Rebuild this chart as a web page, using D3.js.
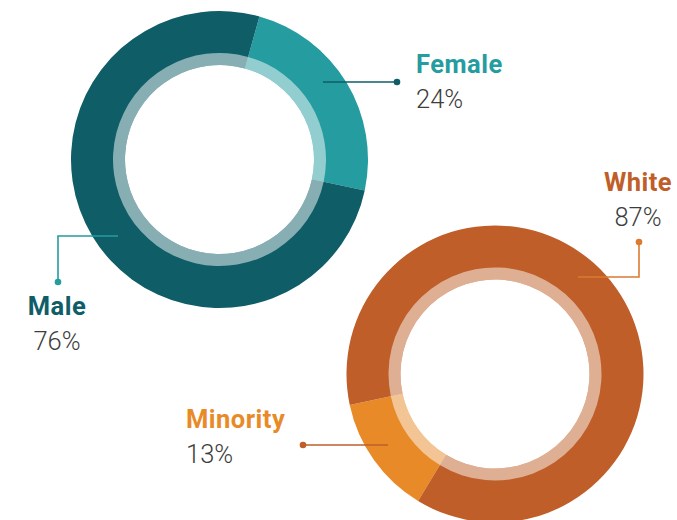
<!DOCTYPE html>
<html><head><meta charset="utf-8">
<script src="https://cdn.jsdelivr.net/npm/d3@7"></script>
<style>body{margin:0;background:#fff;overflow:hidden}</style>
</head><body>
<svg id="c" width="677" height="520"></svg>
<script>
const genderCats = ["Female", "Male"];
const genderVals = [24, 76];
const raceCats = ["Minority", "White"];
const raceVals = [13, 87];

const colors = {Female:"#249ca0", Male:"#0f5d67", Minority:"#e88a28", White:"#bf5e28"};
const labelColors = {Female:"#249ca0", Male:"#0f5d67", Minority:"#e88a28", White:"#bf5e28"};
const lineColors = {Female:"#0f5d67", Male:"#249ca0", Minority:"#bf5e28", White:"#dc7a30"};

const svg = d3.select("#c");
const deg = Math.PI/180;

function donut(cats, vals, cx, cy, start){
  const g = svg.append("g").attr("transform",`translate(${cx},${cy})`);
  const pie = d3.pie().sort(null).startAngle(start).endAngle(start+2*Math.PI);
  const arcs = pie(vals);
  const outer = d3.arc().innerRadius(94.5).outerRadius(148.5);
  const ring = d3.arc().innerRadius(94.5).outerRadius(106.5);
  g.selectAll("path.seg").data(arcs).join("path").attr("class","seg")
    .attr("d",outer).attr("fill",(d,i)=>colors[cats[i]]);
  g.selectAll("path.ring").data(arcs).join("path").attr("class","ring")
    .attr("d",ring).attr("fill","#fff").attr("fill-opacity",0.5);
  return g;
}

donut(genderCats, genderVals, 219.5, 159.5, 15.6*deg);
donut(raceCats, raceVals, 495, 374, 211.2*deg);

function leader(pts, col, dot){
  svg.append("path").attr("d", d3.line()(pts)).attr("fill","none")
    .attr("stroke",col).attr("stroke-width",1.6);
  svg.append("circle").attr("cx",dot[0]).attr("cy",dot[1]).attr("r",3.3).attr("fill",col);
}
function label(name, pct, x, y, anchor){
  const t = svg.append("g");
  t.append("text").attr("x",x).attr("y",y).attr("text-anchor",anchor)
    .attr("font-family","Roboto, sans-serif").attr("font-weight",700)
    .attr("font-size",25.5).attr("letter-spacing",0.5)
    .attr("fill",labelColors[name]).text(name);
  t.append("text").attr("x",x).attr("y",y+35).attr("text-anchor",anchor)
    .attr("font-family","Roboto, sans-serif").attr("font-weight",300)
    .attr("font-size",25.5).attr("fill","#3d3d3d").text(pct+"%");
}

leader([[323,82],[397,82]], lineColors.Female, [397,82]);
label("Female", genderVals[0], 416, 73, "start");

leader([[118,236],[58,236],[58,282]], lineColors.Male, [58,282]);
label("Male", genderVals[1], 57, 315, "middle");

leader([[578,277],[639,277],[639,242]], lineColors.White, [639,242]);
label("White", raceVals[1], 638, 191, "middle");

leader([[388,445],[303,445]], lineColors.Minority, [303,445]);
label("Minority", raceVals[0], 186, 428, "start");
</script>
</body></html>
